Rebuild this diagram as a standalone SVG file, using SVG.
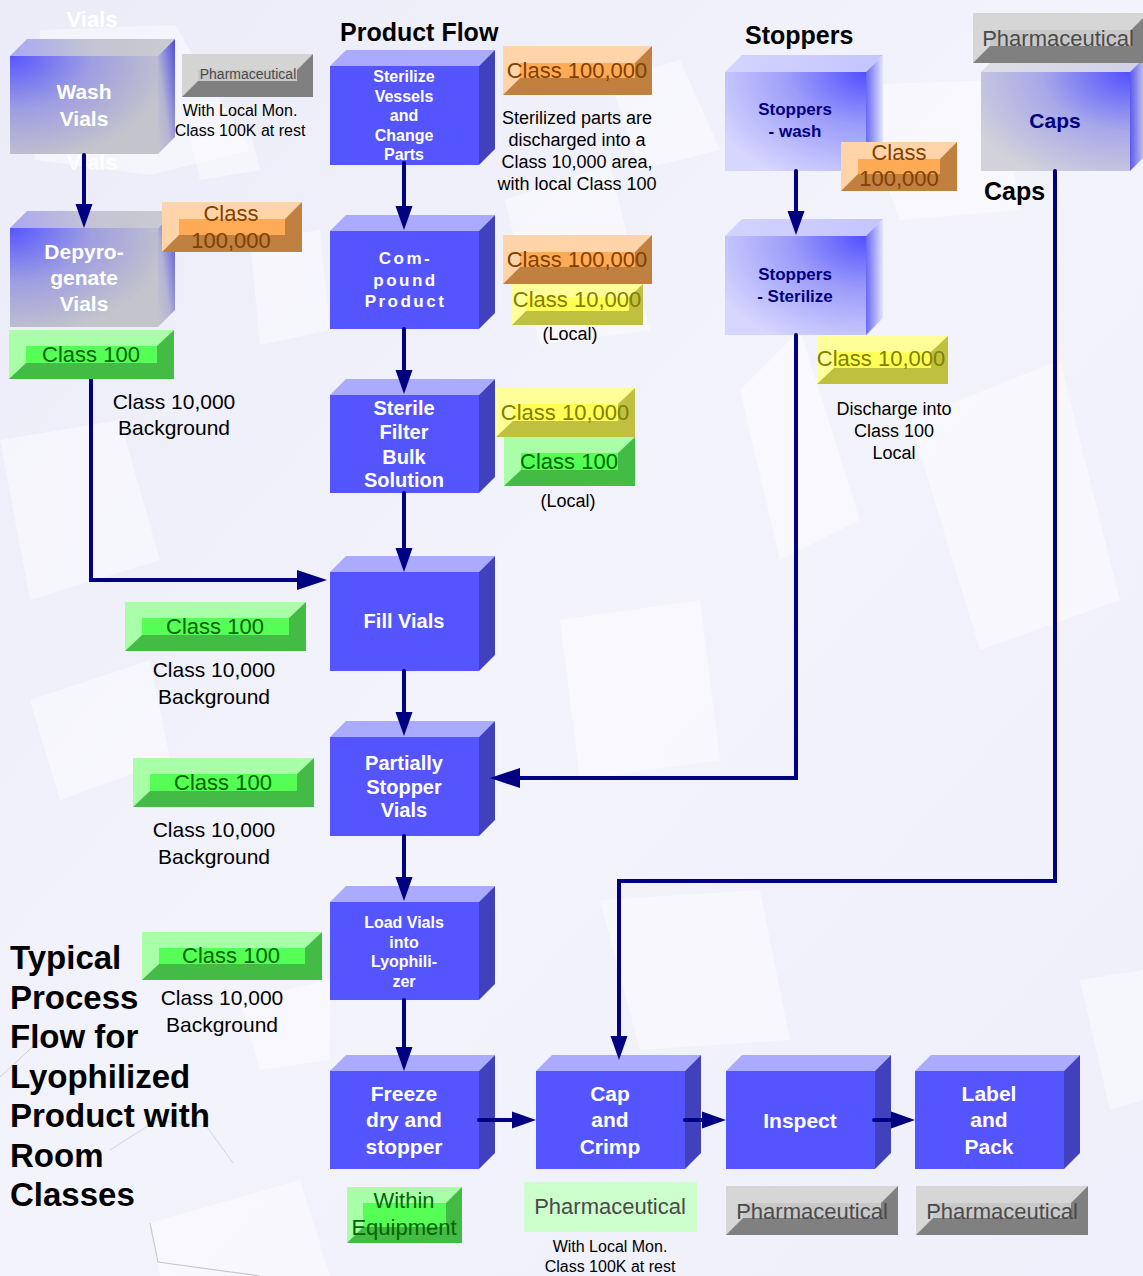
<svg xmlns="http://www.w3.org/2000/svg" width="1143" height="1276" viewBox="0 0 1143 1276">
<style>
text{font-family:"Liberation Sans",Arial,sans-serif}
.bw{font-weight:bold;fill:#ffffff;text-anchor:middle}
.bn{font-weight:bold;fill:#000080;text-anchor:middle}
.t{fill:#000000;text-anchor:middle}
.ttl{font-weight:bold;fill:#000000}
.front{fill:#5555ff}
.top{fill:#aaaaff}
.side{fill:#4141bd}
.conn{fill:none;stroke:#000080;stroke-width:4;stroke-linecap:round;stroke-linejoin:miter}
.lo{fill:#804000;font-size:22px;text-anchor:middle}
.ly{fill:#808000;font-size:22px;text-anchor:middle}
.lg{fill:#006600;font-size:22px;text-anchor:middle}
.lp{fill:#4a4a4a;font-size:22px;text-anchor:middle}
.deco{fill:#ffffff;opacity:0.42}
</style>
<defs>
<marker id="ah" markerUnits="userSpaceOnUse" markerWidth="24" markerHeight="18" refX="14" refY="8.5" orient="auto" viewBox="0 0 24 17">
<path d="M0,0 L24,8.5 L0,17 z" fill="#000080"/>
</marker>
<marker id="ahL" markerUnits="userSpaceOnUse" markerWidth="30" markerHeight="20" refX="20" refY="10" orient="auto" viewBox="0 0 30 20">
<path d="M0,0 L30,10 L0,20 z" fill="#000080"/>
</marker>
<radialGradient id="gGrayFront" cx="0" cy="0" r="1.1">
<stop offset="0" stop-color="#5656ff"/>
<stop offset="0.5" stop-color="#9e9ee2"/>
<stop offset="1" stop-color="#c4c4cc"/>
</radialGradient>
<linearGradient id="gGrayTop" x1="0" y1="0" x2="1" y2="0">
<stop offset="0" stop-color="#a8a8f2"/>
<stop offset="0.5" stop-color="#c4c4d4"/>
<stop offset="1" stop-color="#cacad0"/>
</linearGradient>
<linearGradient id="gGraySide" x1="1" y1="0" x2="0" y2="1">
<stop offset="0" stop-color="#4c4ce0"/>
<stop offset="0.6" stop-color="#b4b4d4"/>
<stop offset="1" stop-color="#c6c6cc"/>
</linearGradient>
<radialGradient id="gLavFront" cx="1" cy="0" r="1.2">
<stop offset="0" stop-color="#5050ff"/>
<stop offset="0.45" stop-color="#9c9cfa"/>
<stop offset="1" stop-color="#d6d6ff"/>
</radialGradient>
<linearGradient id="gLavTop" x1="0" y1="0" x2="1" y2="0">
<stop offset="0" stop-color="#d4d4ff"/>
<stop offset="1" stop-color="#c4c4ff"/>
</linearGradient>
<linearGradient id="gLavSide" x1="0" y1="0" x2="1" y2="0">
<stop offset="0" stop-color="#6868f4"/>
<stop offset="1" stop-color="#e4e4ff"/>
</linearGradient>
<radialGradient id="gCapsFront" cx="1" cy="0" r="1.2">
<stop offset="0" stop-color="#5050ff"/>
<stop offset="0.5" stop-color="#a8a8ea"/>
<stop offset="1" stop-color="#d2d2da"/>
</radialGradient>
<linearGradient id="gCapsTop" x1="0" y1="0" x2="1" y2="0">
<stop offset="0" stop-color="#dedee6"/>
<stop offset="1" stop-color="#d0d0e8"/>
</linearGradient>
<linearGradient id="gCapsSide" x1="0" y1="0" x2="1" y2="0">
<stop offset="0" stop-color="#5a5af0"/>
<stop offset="1" stop-color="#d8d8e8"/>
</linearGradient>
<linearGradient id="gBg" x1="0" y1="0" x2="1" y2="1">
<stop offset="0" stop-color="#ececf9"/>
<stop offset="0.5" stop-color="#f3f3fc"/>
<stop offset="1" stop-color="#efeffb"/>
</linearGradient>
</defs>

<!-- background -->
<rect x="0" y="0" width="1143" height="1276" fill="url(#gBg)"/>
<g id="background-decor">
<polygon class="deco" points="40,30 175,25 250,150 150,175 35,160"/>
<polygon class="deco" points="190,140 250,130 260,170 200,180"/>
<polygon class="deco" points="505,200 610,165 650,330 540,345"/>
<polygon class="deco" points="610,80 680,60 720,150 640,170"/>
<polygon class="deco" points="850,85 1000,80 1020,210 900,220"/>
<polygon class="deco" points="740,390 800,330 860,520 780,560"/>
<polygon class="deco" points="910,420 1060,360 1120,600 980,650"/>
<polygon class="deco" points="0,440 120,420 160,560 30,600"/>
<polygon class="deco" points="250,240 320,230 330,330 260,345"/>
<polygon class="deco" points="30,700 150,660 170,760 60,800"/>
<polygon class="deco" points="560,620 700,600 720,760 580,780"/>
<polygon class="deco" points="240,1000 330,980 330,1060 260,1070"/>
<polygon class="deco" points="600,900 760,890 790,1040 640,1050"/>
<polygon class="deco" points="1080,980 1143,970 1143,1100 1110,1110"/>
<polygon class="deco" points="150,1223 300,1180 330,1276 160,1276"/>
<polyline points="0,1077 40,1040" fill="none" stroke="#d0d0d8" stroke-width="1"/>
<polyline points="110,1150 157,1120 207,1127 233,1163" fill="none" stroke="#d4d4dc" stroke-width="1"/>
<polyline points="150,1223 158,1262 260,1276" fill="none" stroke="#c8c8d0" stroke-width="1.2"/>
</g>

<text x="92" y="27" font-size="22" font-weight="bold" fill="#ffffff" text-anchor="middle">Vials</text>
<text x="92" y="170" font-size="22" font-weight="bold" fill="#ffffff" text-anchor="middle" opacity="0.8">Vials</text>

<!-- titles -->
<text class="ttl" x="340" y="41" font-size="25">Product Flow</text>
<text class="ttl" x="745" y="44" font-size="25">Stoppers</text>
<text class="ttl" x="984" y="200" font-size="25">Caps</text>
<text class="ttl" font-size="33">
<tspan x="10" y="969">Typical</tspan>
<tspan x="10" y="1009">Process</tspan>
<tspan x="10" y="1048">Flow for</tspan>
<tspan x="10" y="1088">Lyophilized</tspan>
<tspan x="10" y="1127">Product with</tspan>
<tspan x="10" y="1167">Room</tspan>
<tspan x="10" y="1206">Classes</tspan>
</text>

<!-- nodes -->
<g id="n-wash-vials">
<rect x="10" y="56" width="148" height="98" fill="url(#gGrayFront)"/>
<polygon points="10,56 27,39 175,39 158,56" fill="url(#gGrayTop)"/>
<polygon points="158,56 175,39 175,137 158,154" fill="url(#gGraySide)"/>
<text class="bw" font-size="21"><tspan x="84" y="98.5">Wash</tspan><tspan x="84" y="125.5">Vials</tspan></text>
</g>

<g id="n-depyrogenate">
<rect x="10" y="228" width="148" height="99" fill="url(#gGrayFront)"/>
<polygon points="10,228 27,211 175,211 158,228" fill="url(#gGrayTop)"/>
<polygon points="158,228 175,211 175,310 158,327" fill="url(#gGraySide)"/>
<text class="bw" font-size="21"><tspan x="84" y="258.5">Depyro-</tspan><tspan x="84" y="284.5">genate</tspan><tspan x="84" y="310.5">Vials</tspan></text>
</g>

<g id="n-sterilize-vessels">
<rect class="front" x="330" y="66" width="149" height="99"/>
<polygon class="top" points="330,66 346,50 495,50 479,66"/>
<polygon class="side" points="479,66 495,50 495,149 479,165"/>
<text class="bw" font-size="16"><tspan x="404" y="81.7">Sterilize</tspan><tspan x="404" y="101.7">Vessels</tspan><tspan x="404" y="120.7">and</tspan><tspan x="404" y="140.7">Change</tspan><tspan x="404" y="159.7">Parts</tspan></text>
</g>

<g id="n-compound">
<rect class="front" x="330" y="231" width="149" height="98"/>
<polygon class="top" points="330,231 346,215 495,215 479,231"/>
<polygon class="side" points="479,231 495,215 495,313 479,329"/>
<text class="bw" font-size="17" letter-spacing="2.5"><tspan x="405.5" y="264">Com-</tspan><tspan x="405.5" y="286">pound</tspan><tspan x="405.5" y="307">Product</tspan></text>
</g>

<g id="n-sterile-filter">
<rect class="front" x="330" y="395" width="149" height="98"/>
<polygon class="top" points="330,395 346,379 495,379 479,395"/>
<polygon class="side" points="479,395 495,379 495,477 479,493"/>
<text class="bw" font-size="20"><tspan x="404" y="415">Sterile</tspan><tspan x="404" y="439">Filter</tspan><tspan x="404" y="464">Bulk</tspan><tspan x="404" y="487">Solution</tspan></text>
</g>

<g id="n-fill-vials">
<rect class="front" x="330" y="572" width="149" height="99"/>
<polygon class="top" points="330,572 346,556 495,556 479,572"/>
<polygon class="side" points="479,572 495,556 495,655 479,671"/>
<text class="bw" font-size="20" x="404" y="628">Fill Vials</text>
</g>

<g id="n-partially-stopper">
<rect class="front" x="330" y="737" width="149" height="99"/>
<polygon class="top" points="330,737 346,721 495,721 479,737"/>
<polygon class="side" points="479,737 495,721 495,820 479,836"/>
<text class="bw" font-size="20"><tspan x="404" y="770">Partially</tspan><tspan x="404" y="794">Stopper</tspan><tspan x="404" y="817">Vials</tspan></text>
</g>

<g id="n-load-vials">
<rect class="front" x="330" y="902" width="149" height="98"/>
<polygon class="top" points="330,902 346,886 495,886 479,902"/>
<polygon class="side" points="479,902 495,886 495,984 479,1000"/>
<text class="bw" font-size="16"><tspan x="404" y="927.7">Load Vials</tspan><tspan x="404" y="947.7">into</tspan><tspan x="404" y="966.7">Lyophili-</tspan><tspan x="404" y="986.7">zer</tspan></text>
</g>

<g id="n-freeze-dry">
<rect class="front" x="330" y="1071" width="149" height="98"/>
<polygon class="top" points="330,1071 346,1055 495,1055 479,1071"/>
<polygon class="side" points="479,1071 495,1055 495,1153 479,1169"/>
<text class="bw" font-size="21"><tspan x="404" y="1100.5">Freeze</tspan><tspan x="404" y="1126.5">dry and</tspan><tspan x="404" y="1153.5">stopper</tspan></text>
</g>

<g id="n-cap-crimp">
<rect class="front" x="536" y="1071" width="149" height="98"/>
<polygon class="top" points="536,1071 552,1055 701,1055 685,1071"/>
<polygon class="side" points="685,1071 701,1055 701,1153 685,1169"/>
<text class="bw" font-size="21"><tspan x="610" y="1100.5">Cap</tspan><tspan x="610" y="1126.5">and</tspan><tspan x="610" y="1153.5">Crimp</tspan></text>
</g>

<g id="n-inspect">
<rect class="front" x="726" y="1071" width="149" height="98"/>
<polygon class="top" points="726,1071 742,1055 891,1055 875,1071"/>
<polygon class="side" points="875,1071 891,1055 891,1153 875,1169"/>
<text class="bw" font-size="21" x="800" y="1127.5">Inspect</text>
</g>

<g id="n-label-pack">
<rect class="front" x="915" y="1071" width="149" height="98"/>
<polygon class="top" points="915,1071 931,1055 1080,1055 1064,1071"/>
<polygon class="side" points="1064,1071 1080,1055 1080,1153 1064,1169"/>
<text class="bw" font-size="21"><tspan x="989" y="1100.5">Label</tspan><tspan x="989" y="1126.5">and</tspan><tspan x="989" y="1153.5">Pack</tspan></text>
</g>

<g id="n-stoppers-wash">
<rect x="725" y="72" width="141" height="99" fill="url(#gLavFront)"/>
<polygon points="725,72 742,55 883,55 866,72" fill="url(#gLavTop)"/>
<polygon points="866,72 883,55 883,154 866,171" fill="url(#gLavSide)"/>
<text class="bn" font-size="17"><tspan x="795" y="115">Stoppers</tspan><tspan x="795" y="137">- wash</tspan></text>
</g>

<g id="n-stoppers-sterilize">
<rect x="725" y="236" width="141" height="99" fill="url(#gLavFront)"/>
<polygon points="725,236 742,219 883,219 866,236" fill="url(#gLavTop)"/>
<polygon points="866,236 883,219 883,318 866,335" fill="url(#gLavSide)"/>
<text class="bn" font-size="17"><tspan x="795" y="280">Stoppers</tspan><tspan x="795" y="302">- Sterilize</tspan></text>
</g>

<g id="n-caps">
<rect x="981" y="72" width="149" height="99" fill="url(#gCapsFront)"/>
<polygon points="981,72 998,55 1147,55 1130,72" fill="url(#gCapsTop)"/>
<polygon points="1130,72 1147,55 1147,154 1130,171" fill="url(#gCapsSide)"/>
<text class="bn" font-size="21" x="1055" y="127.5">Caps</text>
</g>

<!-- connectors -->
<g id="connectors">
<path class="conn" d="M84,155 V218" marker-end="url(#ah)"/>
<path class="conn" d="M91,379 V580 H317" marker-end="url(#ahL)"/>
<path class="conn" d="M404,163 V220" marker-end="url(#ah)"/>
<path class="conn" d="M404,329 V384" marker-end="url(#ah)"/>
<path class="conn" d="M404,493 V562" marker-end="url(#ah)"/>
<path class="conn" d="M404,671 V726" marker-end="url(#ah)"/>
<path class="conn" d="M404,836 V891" marker-end="url(#ah)"/>
<path class="conn" d="M404,1000 V1061" marker-end="url(#ah)"/>
<path class="conn" d="M479,1120 H526" marker-end="url(#ah)"/>
<path class="conn" d="M685,1120 H716" marker-end="url(#ah)"/>
<path class="conn" d="M874,1120 H905" marker-end="url(#ah)"/>
<path class="conn" d="M796,171 V225" marker-end="url(#ah)"/>
<path class="conn" d="M796,335 V778 H500" marker-end="url(#ahL)"/>
<path class="conn" d="M1055,171 V881 H619 V1050" marker-end="url(#ah)"/>
</g>

<!-- class labels -->
<g id="lbl-pharm-wash">
<rect x="182" y="54" width="131" height="43" fill="#808080"/>
<polygon points="182,54 313,54 297,70 198,70 198,81 182,97" fill="#d4d4d4"/>
<rect x="198" y="70" width="99" height="11" fill="#c8c8c8"/>
<text x="248" y="79" font-size="14" fill="#4a4a4a" text-anchor="middle">Pharmaceutical</text>
</g>
<text class="t" font-size="16"><tspan x="240" y="116">With Local Mon.</tspan><tspan x="240" y="136">Class 100K at rest</tspan></text>

<g id="lbl-sterilize-100k">
<rect x="503" y="46" width="149" height="49" fill="#c08040"/>
<polygon points="503,46 652,46 635,63 520,63 520,78 503,95" fill="#ffd4a8"/>
<rect x="520" y="63" width="115" height="15" fill="#ffaa55"/>
<text class="lo" x="577" y="78">Class 100,000</text>
</g>
<text class="t" font-size="18"><tspan x="577" y="123.5">Sterilized parts are</tspan><tspan x="577" y="145.5">discharged into a</tspan><tspan x="577" y="167.5">Class 10,000 area,</tspan><tspan x="577" y="189.5">with local Class 100</tspan></text>

<g id="lbl-stopwash-100k">
<rect x="841" y="142" width="116" height="49" fill="#c08040"/>
<polygon points="841,142 957,142 940,159 858,159 858,174 841,191" fill="#ffd4a8"/>
<rect x="858" y="159" width="82" height="15" fill="#ffaa55"/>
<text class="lo"><tspan x="899" y="160">Class</tspan><tspan x="899" y="186">100,000</tspan></text>
</g>

<g id="lbl-caps-pharm">
<rect x="973" y="13" width="175" height="50" fill="#808080"/>
<polygon points="973,13 1148,13 1131,30 990,30 990,46 973,63" fill="#d6d6d6"/>
<rect x="990" y="30" width="141" height="16" fill="#c8c8c8"/>
<text class="lp" x="1058" y="46">Pharmaceutical</text>
</g>

<g id="lbl-depyro-100k">
<rect x="162" y="202" width="140" height="50" fill="#c08040"/>
<polygon points="162,202 302,202 285,219 179,219 179,235 162,252" fill="#ffd4a8"/>
<rect x="179" y="219" width="106" height="16" fill="#ffaa55"/>
<text class="lo"><tspan x="231" y="221">Class</tspan><tspan x="231" y="248">100,000</tspan></text>
</g>

<g id="lbl-depyro-100">
<rect x="9" y="330" width="165" height="49" fill="#44bb44"/>
<polygon points="9,330 174,330 157,346 26,346 26,363 9,379" fill="#a8ffa8"/>
<rect x="26" y="346" width="131" height="17" fill="#55ff55"/>
<text class="lg" x="91" y="362">Class 100</text>
</g>
<text class="t" font-size="21"><tspan x="174" y="408.5">Class 10,000</tspan><tspan x="174" y="434.5">Background</tspan></text>

<g id="lbl-compound-100k">
<rect x="503" y="235" width="149" height="49" fill="#c08040"/>
<polygon points="503,235 652,235 635,252 520,252 520,267 503,284" fill="#ffd4a8"/>
<rect x="520" y="252" width="115" height="15" fill="#ffaa55"/>
<text class="lo" x="577" y="267">Class 100,000</text>
</g>
<g id="lbl-compound-10k">
<rect x="512" y="284" width="131" height="41" fill="#c0c040"/>
<polygon points="512,284 643,284 629,297 526,297 526,311 512,325" fill="#ffff99"/>
<rect x="526" y="297" width="103" height="14" fill="#ffff55"/>
<text class="ly" x="577" y="307">Class 10,000</text>
</g>
<text class="t" font-size="18" x="570" y="339.5">(Local)</text>

<g id="lbl-filter-10k">
<rect x="496" y="388" width="139" height="49" fill="#c0c040"/>
<polygon points="496,388 635,388 618,404 513,404 513,421 496,437" fill="#ffff99"/>
<rect x="513" y="404" width="105" height="17" fill="#ffff55"/>
<text class="ly" x="565" y="420">Class 10,000</text>
</g>
<g id="lbl-filter-100">
<rect x="504" y="437" width="131" height="49" fill="#44bb44"/>
<polygon points="504,437 635,437 618,453 521,453 521,470 504,486" fill="#a8ffa8"/>
<rect x="521" y="453" width="97" height="17" fill="#55ff55"/>
<text class="lg" x="569" y="469">Class 100</text>
</g>
<text class="t" font-size="18" x="568" y="506.5">(Local)</text>

<g id="lbl-stopster-10k">
<rect x="817" y="336" width="131" height="48" fill="#c0c040"/>
<polygon points="817,336 948,336 931,352 834,352 834,368 817,384" fill="#ffff99"/>
<rect x="834" y="352" width="97" height="16" fill="#ffff55"/>
<text class="ly" x="881" y="366">Class 10,000</text>
</g>
<text class="t" font-size="18"><tspan x="894" y="414.5">Discharge into</tspan><tspan x="894" y="436.5">Class 100</tspan><tspan x="894" y="458.5">Local</tspan></text>

<g id="lbl-fill-100">
<rect x="125" y="602" width="181" height="49" fill="#44bb44"/>
<polygon points="125,602 306,602 289,618 142,618 142,635 125,651" fill="#a8ffa8"/>
<rect x="142" y="618" width="147" height="17" fill="#55ff55"/>
<text class="lg" x="215" y="634">Class 100</text>
</g>
<text class="t" font-size="21"><tspan x="214" y="676.5">Class 10,000</tspan><tspan x="214" y="703.5">Background</tspan></text>

<g id="lbl-partial-100">
<rect x="133" y="758" width="181" height="49" fill="#44bb44"/>
<polygon points="133,758 314,758 297,774 150,774 150,791 133,807" fill="#a8ffa8"/>
<rect x="150" y="774" width="147" height="17" fill="#55ff55"/>
<text class="lg" x="223" y="790">Class 100</text>
</g>
<text class="t" font-size="21"><tspan x="214" y="836.5">Class 10,000</tspan><tspan x="214" y="863.5">Background</tspan></text>

<g id="lbl-load-100">
<rect x="142" y="932" width="180" height="48" fill="#44bb44"/>
<polygon points="142,932 322,932 305,948 159,948 159,964 142,980" fill="#a8ffa8"/>
<rect x="159" y="948" width="146" height="16" fill="#55ff55"/>
<text class="lg" x="231" y="963">Class 100</text>
</g>
<text class="t" font-size="21"><tspan x="222" y="1004.5">Class 10,000</tspan><tspan x="222" y="1031.5">Background</tspan></text>

<g id="lbl-within-equipment">
<rect x="347" y="1187" width="115" height="56" fill="#44bb44"/>
<polygon points="347,1187 462,1187 446,1203 363,1203 363,1227 347,1243" fill="#a8ffa8"/>
<rect x="363" y="1203" width="83" height="24" fill="#55ff55"/>
<text class="lg"><tspan x="404" y="1208">Within</tspan><tspan x="404" y="1235">Equipment</tspan></text>
</g>

<g id="lbl-cap-pharm">
<rect x="524" y="1182" width="173" height="50" fill="#ccffcc"/>
<text class="lp" x="610" y="1214">Pharmaceutical</text>
</g>
<text class="t" font-size="16"><tspan x="610" y="1252">With Local Mon.</tspan><tspan x="610" y="1272">Class 100K at rest</tspan></text>

<g id="lbl-inspect-pharm">
<rect x="726" y="1186" width="172" height="49" fill="#808080"/>
<polygon points="726,1186 898,1186 881,1203 743,1203 743,1218 726,1235" fill="#d6d6d6"/>
<rect x="743" y="1203" width="138" height="15" fill="#c8c8c8"/>
<text class="lp" x="812" y="1219">Pharmaceutical</text>
</g>

<g id="lbl-label-pharm">
<rect x="916" y="1186" width="172" height="49" fill="#808080"/>
<polygon points="916,1186 1088,1186 1071,1203 933,1203 933,1218 916,1235" fill="#d6d6d6"/>
<rect x="933" y="1203" width="138" height="15" fill="#c8c8c8"/>
<text class="lp" x="1002" y="1219">Pharmaceutical</text>
</g>
</svg>
